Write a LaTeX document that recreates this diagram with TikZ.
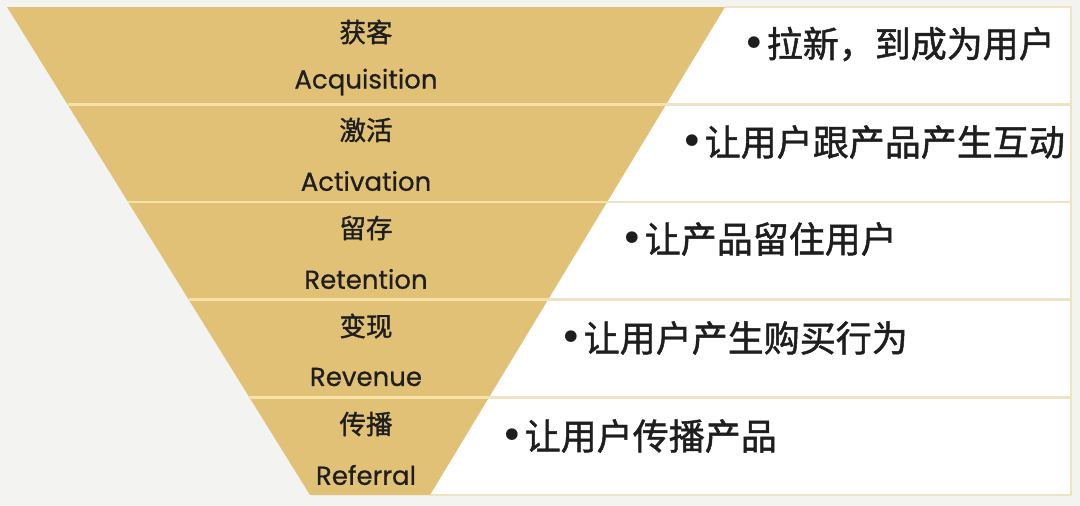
\documentclass[tikz,border=0pt]{standalone}
\usepackage{fontspec}
\newfontfamily\cjk[FakeBold=1.3]{Noto Sans CJK SC}
\newfontfamily\lat[FakeBold=0.6]{Poppins}
\newfontfamily\bulfont{DejaVu Sans}
\usetikzlibrary{calc}
\definecolor{bgc}{HTML}{F3F3F2}
\definecolor{goldc}{HTML}{E1C176}
\definecolor{linegold}{HTML}{F6E2A6}
\definecolor{linewhite}{HTML}{EEE3C2}
\definecolor{txt}{HTML}{1E1E1E}
\newcommand{\bul}{{\bulfont\fontsize{40}{40}\selectfont •}\hspace{1pt}}
\tikzset{
  stagecn/.style={font=\cjk\fontsize{26.5}{30}\selectfont, text=txt, inner sep=0pt},
  stageen/.style={font=\lat\fontsize{26}{30}\selectfont, text=txt, inner sep=0pt},
  desc/.style={font=\cjk\fontsize{36}{40}\selectfont, text=txt, inner sep=0pt, anchor=west},
  sepgold/.style={draw=linegold, line width=2.6pt},
  sepwhite/.style={draw=linewhite, line width=2.6pt},
}
\begin{document}
\begin{tikzpicture}[x=1pt,y=-1pt]
\fill[bgc] (0,0) rectangle (1080,506);
\useasboundingbox (0,0) rectangle (1080,506);
\coordinate (A) at (7,7);
\coordinate (B) at (725,7);
\coordinate (C) at (430,495);
\coordinate (D) at (310,495);
\coordinate (E) at (1071,7);
\coordinate (F) at (1071,495);
% white area
\fill[white] (B) -- (E) -- (F) -- (C) -- cycle;
\draw[linewhite, line width=2pt] (B) -- (E) -- (F) -- (C);
% funnel
\fill[goldc] (A) -- (B) -- (C) -- (D) -- cycle;
% separators
\foreach \k in {1,2,3,4}{
  \coordinate (L\k) at ($(A)!\k/5!(D)$);
  \coordinate (R\k) at ($(B)!\k/5!(C)$);
  \coordinate (W\k) at ($(E)!\k/5!(F)$);
  \draw[sepgold] (L\k) -- (R\k);
  \draw[sepwhite] (R\k) -- (W\k);
}
% stage labels
\node[stagecn] (c1) at (366,32) {获客};
\node[stageen] (e1) at (366,82) {Acquisition};
\node[stagecn] (c2) at (366,130) {激活};
\node[stageen] (e2) at (366,181) {Activation};
\node[stagecn] (c3) at (366,228) {留存};
\node[stageen] (e3) at (366,279) {Retention};
\node[stagecn] (c4) at (366,326) {变现};
\node[stageen] (e4) at (366,377) {Revenue};
\node[stagecn] (c5) at (366,424) {传播};
\node[stageen] (e5) at (366,475) {Referral};
% descriptions
\node[desc] (d1) at (742,44) {\bul 拉新，到成为用户};
\node[desc] (d2) at (680,142) {\bul 让用户跟产品产生互动};
\node[desc] (d3) at (620,239) {\bul 让产品留住用户};
\node[desc] (d4) at (559,338) {\bul 让用户产生购买行为};
\node[desc] (d5) at (500,436) {\bul 让用户传播产品};
\end{tikzpicture}
\end{document}
